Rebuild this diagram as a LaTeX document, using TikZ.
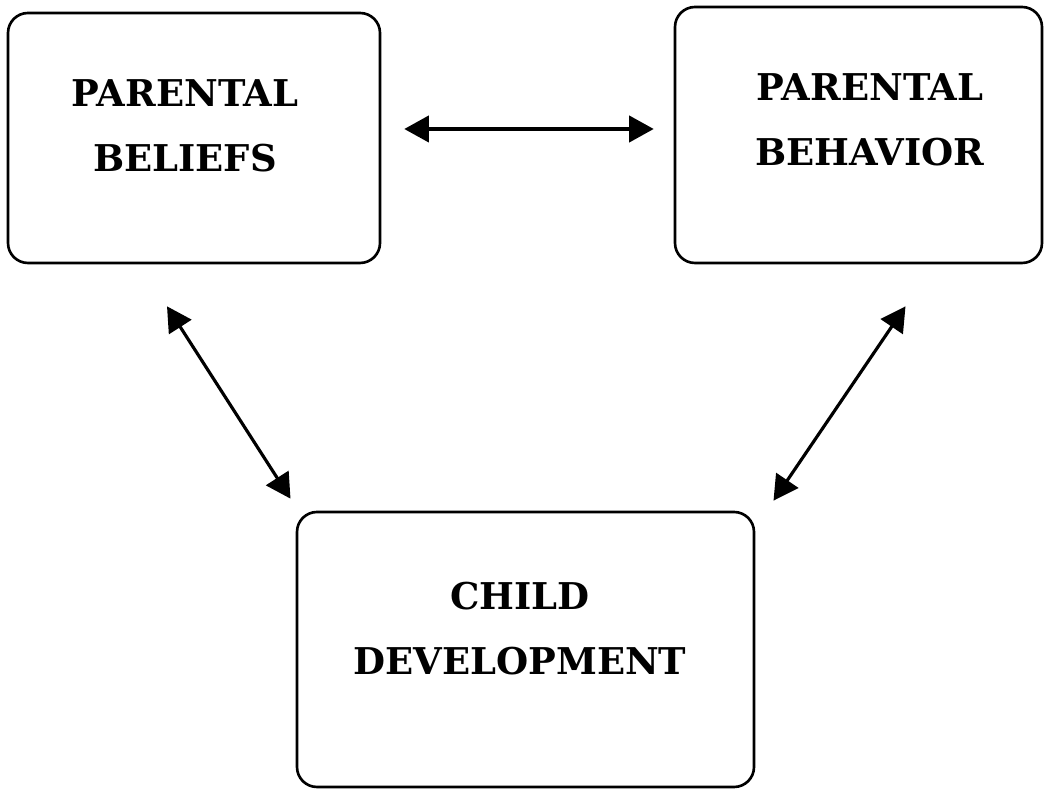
\documentclass[tikz,border=0pt]{standalone}
\usepackage{fontspec}
\setmainfont{DejaVu Serif}
\usetikzlibrary{arrows.meta}

\begin{document}
\begin{tikzpicture}[
        box/.style={draw, line width=0.75pt, rounded corners=0.2cm, inner sep=0pt},
        lbl/.style={font=\bfseries\fontsize{10.5}{18.5}\selectfont, align=center},
        link/.style={{Triangle[length=7pt,width=7.5pt]}-{Triangle[length=7pt,width=7.5pt]}, line width=0.9pt}]
        \useasboundingbox (0,0) rectangle (10.45,7.91);
        \node[box, minimum width=3.72cm, minimum height=2.50cm] (beliefs) at (1.94,6.53) {};
        \node[box, minimum width=3.67cm, minimum height=2.56cm] (behavior) at (8.585,6.56) {};
        \node[box, minimum width=4.57cm, minimum height=2.75cm] (child) at (5.255,1.415) {};
        \node[lbl] (beliefstext) at (1.85,6.65) {PARENTAL\\BELIEFS};
        \node[lbl] (behaviortext) at (8.70,6.71) {PARENTAL\\BEHAVIOR};
        \node[lbl] (childtext) at (5.20,1.62) {CHILD\\DEVELOPMENT};
        \draw[link] ([xshift=0.23cm,yshift=0.09cm]beliefs.east) -- ([xshift=-0.20cm,yshift=0.06cm]behavior.west);
        \draw[link] ([xshift=-0.27cm,yshift=-0.42cm]beliefs.south) -- ([xshift=-2.35cm,yshift=0.12cm]child.north);
        \draw[link] ([xshift=0.47cm,yshift=-0.42cm]behavior.south) -- ([xshift=2.48cm,yshift=0.10cm]child.north);
    \end{tikzpicture}
\end{document}
